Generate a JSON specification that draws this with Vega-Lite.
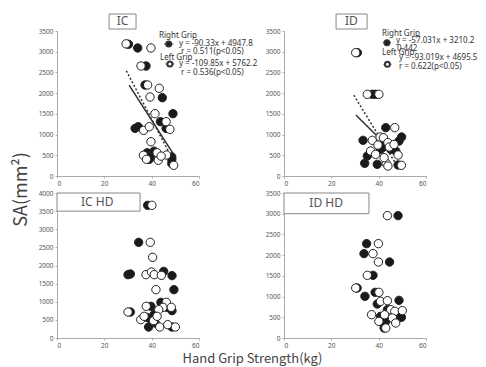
{
"$schema":"https://vega.github.io/schema/vega-lite/v6.json",
"padding":{"left":11,"top":13,"right":0,"bottom":5},
"background":"white",
"config":{"view":{"stroke":null},"font":"Noto Sans","axis":{"grid":false,"domainColor":"#aaa","tickColor":"#aaa","tickSize":2,"labelFontSize":6.5,"labelColor":"#555","labelPadding":2,"labelOverlap":false,"title":null,"format":"d"},"text":{"font":"Noto Sans","fontSize":8,"color":"#333","align":"left","baseline":"middle"}},
"datasets":{
"pts":[
{"panel":"IC","grip":"Right","hgs":30.2,"sa":3180},{"panel":"IC","grip":"Right","hgs":34.1,"sa":3090},{"panel":"IC","grip":"Right","hgs":37.6,"sa":2655},{"panel":"IC","grip":"Right","hgs":37.2,"sa":2197},{"panel":"IC","grip":"Right","hgs":44.5,"sa":1890},{"panel":"IC","grip":"Right","hgs":49.0,"sa":1504},{"panel":"IC","grip":"Right","hgs":43.7,"sa":1311},{"panel":"IC","grip":"Right","hgs":33.0,"sa":1150},{"panel":"IC","grip":"Right","hgs":34.3,"sa":1190},{"panel":"IC","grip":"Right","hgs":46.1,"sa":1150},{"panel":"IC","grip":"Right","hgs":38.1,"sa":560},{"panel":"IC","grip":"Right","hgs":40.0,"sa":483},{"panel":"IC","grip":"Right","hgs":39.0,"sa":403},{"panel":"IC","grip":"Right","hgs":41.5,"sa":530},{"panel":"IC","grip":"Right","hgs":48.5,"sa":459},{"panel":"IC","grip":"Right","hgs":48.5,"sa":400},{"panel":"IC","grip":"Right","hgs":48.5,"sa":300},{"panel":"IC","grip":"Right","hgs":41.0,"sa":600},
{"panel":"IC","grip":"Left","hgs":29.2,"sa":3190},{"panel":"IC","grip":"Left","hgs":39.7,"sa":3090},{"panel":"IC","grip":"Left","hgs":35.5,"sa":2655},{"panel":"IC","grip":"Left","hgs":38.3,"sa":2197},{"panel":"IC","grip":"Left","hgs":43.2,"sa":2117},{"panel":"IC","grip":"Left","hgs":39.3,"sa":1907},{"panel":"IC","grip":"Left","hgs":41.4,"sa":1504},{"panel":"IC","grip":"Left","hgs":46.1,"sa":1311},{"panel":"IC","grip":"Left","hgs":36.6,"sa":1102},{"panel":"IC","grip":"Left","hgs":39.0,"sa":1190},{"panel":"IC","grip":"Left","hgs":47.7,"sa":1126},{"panel":"IC","grip":"Left","hgs":39.7,"sa":828},{"panel":"IC","grip":"Left","hgs":36.5,"sa":500},{"panel":"IC","grip":"Left","hgs":42.3,"sa":560},{"panel":"IC","grip":"Left","hgs":37.8,"sa":403},{"panel":"IC","grip":"Left","hgs":42.8,"sa":379},{"panel":"IC","grip":"Left","hgs":46.3,"sa":507},{"panel":"IC","grip":"Left","hgs":49.3,"sa":258},{"panel":"IC","grip":"Left","hgs":44.0,"sa":480},
{"panel":"ID","grip":"Right","hgs":31.0,"sa":2977},{"panel":"ID","grip":"Right","hgs":37.3,"sa":1972},{"panel":"ID","grip":"Right","hgs":38.7,"sa":1972},{"panel":"ID","grip":"Right","hgs":43.0,"sa":1167},{"panel":"ID","grip":"Right","hgs":49.7,"sa":941},{"panel":"ID","grip":"Right","hgs":48.6,"sa":845},{"panel":"ID","grip":"Right","hgs":33.4,"sa":861},{"panel":"ID","grip":"Right","hgs":40.8,"sa":644},{"panel":"ID","grip":"Right","hgs":45.1,"sa":644},{"panel":"ID","grip":"Right","hgs":35.2,"sa":483},{"panel":"ID","grip":"Right","hgs":47.2,"sa":604},{"panel":"ID","grip":"Right","hgs":34.1,"sa":306},{"panel":"ID","grip":"Right","hgs":39.4,"sa":282},{"panel":"ID","grip":"Right","hgs":48.2,"sa":266},{"panel":"ID","grip":"Right","hgs":42.0,"sa":700},{"panel":"ID","grip":"Right","hgs":41.5,"sa":850},
{"panel":"ID","grip":"Left","hgs":30.3,"sa":2977},{"panel":"ID","grip":"Left","hgs":35.2,"sa":1972},{"panel":"ID","grip":"Left","hgs":40.1,"sa":1972},{"panel":"ID","grip":"Left","hgs":46.8,"sa":1167},{"panel":"ID","grip":"Left","hgs":37.3,"sa":861},{"panel":"ID","grip":"Left","hgs":40.6,"sa":941},{"panel":"ID","grip":"Left","hgs":42.0,"sa":925},{"panel":"ID","grip":"Left","hgs":43.9,"sa":805},{"panel":"ID","grip":"Left","hgs":39.7,"sa":748},{"panel":"ID","grip":"Left","hgs":36.6,"sa":604},{"panel":"ID","grip":"Left","hgs":38.7,"sa":523},{"panel":"ID","grip":"Left","hgs":48.2,"sa":507},{"panel":"ID","grip":"Left","hgs":43.2,"sa":306},{"panel":"ID","grip":"Left","hgs":42.3,"sa":443},{"panel":"ID","grip":"Left","hgs":43.9,"sa":241},{"panel":"ID","grip":"Left","hgs":49.6,"sa":258},{"panel":"ID","grip":"Left","hgs":44.5,"sa":700},{"panel":"ID","grip":"Left","hgs":46.5,"sa":760},
{"panel":"ICHD","grip":"Right","hgs":38.3,"sa":3660},{"panel":"ICHD","grip":"Right","hgs":34.5,"sa":2639},{"panel":"ICHD","grip":"Right","hgs":30.0,"sa":1747},{"panel":"ICHD","grip":"Right","hgs":31.0,"sa":1765},{"panel":"ICHD","grip":"Right","hgs":45.1,"sa":1839},{"panel":"ICHD","grip":"Right","hgs":48.6,"sa":1720},{"panel":"ICHD","grip":"Right","hgs":49.4,"sa":1333},{"panel":"ICHD","grip":"Right","hgs":31.0,"sa":717},{"panel":"ICHD","grip":"Right","hgs":39.7,"sa":874},{"panel":"ICHD","grip":"Right","hgs":43.9,"sa":984},{"panel":"ICHD","grip":"Right","hgs":46.5,"sa":846},{"panel":"ICHD","grip":"Right","hgs":48.6,"sa":754},{"panel":"ICHD","grip":"Right","hgs":41.0,"sa":644},{"panel":"ICHD","grip":"Right","hgs":38.0,"sa":570},{"panel":"ICHD","grip":"Right","hgs":39.4,"sa":533},{"panel":"ICHD","grip":"Right","hgs":38.7,"sa":303},{"panel":"ICHD","grip":"Right","hgs":48.6,"sa":303},{"panel":"ICHD","grip":"Right","hgs":41.5,"sa":414},
{"panel":"ICHD","grip":"Left","hgs":40.1,"sa":3660},{"panel":"ICHD","grip":"Left","hgs":39.4,"sa":2639},{"panel":"ICHD","grip":"Left","hgs":40.4,"sa":2225},{"panel":"ICHD","grip":"Left","hgs":37.6,"sa":1747},{"panel":"ICHD","grip":"Left","hgs":39.9,"sa":1820},{"panel":"ICHD","grip":"Left","hgs":41.1,"sa":1747},{"panel":"ICHD","grip":"Left","hgs":44.1,"sa":1729},{"panel":"ICHD","grip":"Left","hgs":41.8,"sa":1333},{"panel":"ICHD","grip":"Left","hgs":30.0,"sa":717},{"panel":"ICHD","grip":"Left","hgs":35.4,"sa":506},{"panel":"ICHD","grip":"Left","hgs":36.8,"sa":598},{"panel":"ICHD","grip":"Left","hgs":37.7,"sa":874},{"panel":"ICHD","grip":"Left","hgs":46.2,"sa":984},{"panel":"ICHD","grip":"Left","hgs":44.8,"sa":846},{"panel":"ICHD","grip":"Left","hgs":48.3,"sa":846},{"panel":"ICHD","grip":"Left","hgs":43.0,"sa":782},{"panel":"ICHD","grip":"Left","hgs":40.8,"sa":478},{"panel":"ICHD","grip":"Left","hgs":42.3,"sa":598},{"panel":"ICHD","grip":"Left","hgs":43.4,"sa":303},{"panel":"ICHD","grip":"Left","hgs":46.8,"sa":368},{"panel":"ICHD","grip":"Left","hgs":50.0,"sa":303},
{"panel":"IDHD","grip":"Right","hgs":48.2,"sa":2953},{"panel":"IDHD","grip":"Right","hgs":34.9,"sa":2277},{"panel":"IDHD","grip":"Right","hgs":33.8,"sa":2036},{"panel":"IDHD","grip":"Right","hgs":44.6,"sa":1834},{"panel":"IDHD","grip":"Right","hgs":37.6,"sa":1513},{"panel":"IDHD","grip":"Right","hgs":30.9,"sa":1207},{"panel":"IDHD","grip":"Right","hgs":34.2,"sa":1006},{"panel":"IDHD","grip":"Right","hgs":38.5,"sa":1102},{"panel":"IDHD","grip":"Right","hgs":39.4,"sa":821},{"panel":"IDHD","grip":"Right","hgs":48.6,"sa":909},{"panel":"IDHD","grip":"Right","hgs":40.8,"sa":523},{"panel":"IDHD","grip":"Right","hgs":43.7,"sa":684},{"panel":"IDHD","grip":"Right","hgs":47.9,"sa":563},{"panel":"IDHD","grip":"Right","hgs":49.6,"sa":499},{"panel":"IDHD","grip":"Right","hgs":43.0,"sa":402},{"panel":"IDHD","grip":"Right","hgs":42.3,"sa":241},{"panel":"IDHD","grip":"Right","hgs":41.5,"sa":380},
{"panel":"IDHD","grip":"Left","hgs":43.7,"sa":2953},{"panel":"IDHD","grip":"Left","hgs":39.9,"sa":2277},{"panel":"IDHD","grip":"Left","hgs":37.6,"sa":2036},{"panel":"IDHD","grip":"Left","hgs":39.9,"sa":1834},{"panel":"IDHD","grip":"Left","hgs":35.2,"sa":1513},{"panel":"IDHD","grip":"Left","hgs":30.3,"sa":1207},{"panel":"IDHD","grip":"Left","hgs":40.1,"sa":1102},{"panel":"IDHD","grip":"Left","hgs":40.8,"sa":885},{"panel":"IDHD","grip":"Left","hgs":43.7,"sa":901},{"panel":"IDHD","grip":"Left","hgs":37.0,"sa":563},{"panel":"IDHD","grip":"Left","hgs":45.1,"sa":684},{"panel":"IDHD","grip":"Left","hgs":46.8,"sa":644},{"panel":"IDHD","grip":"Left","hgs":50.0,"sa":660},{"panel":"IDHD","grip":"Left","hgs":45.8,"sa":483},{"panel":"IDHD","grip":"Left","hgs":47.2,"sa":362},{"panel":"IDHD","grip":"Left","hgs":43.0,"sa":241},{"panel":"IDHD","grip":"Left","hgs":40.1,"sa":402},{"panel":"IDHD","grip":"Left","hgs":42.5,"sa":560}
],
"fits":[
{"panel":"IC","grip":"Right","hgs":30.5,"sa":2190},{"panel":"IC","grip":"Right","hgs":49.3,"sa":520},
{"panel":"IC","grip":"Left","hgs":29.3,"sa":2540},{"panel":"IC","grip":"Left","hgs":48.5,"sa":440},
{"panel":"ID","grip":"Right","hgs":30.4,"sa":1470},{"panel":"ID","grip":"Right","hgs":49.0,"sa":420},
{"panel":"ID","grip":"Left","hgs":29.5,"sa":1950},{"panel":"ID","grip":"Left","hgs":47.0,"sa":320}
]
},
"columns":2,
"spacing":{"row":17,"column":85},
"bounds":"flush",
"concat":[
{"width":142,"height":145,"layer":[
{"data":{"name":"fits"},"transform":[{"filter":"datum.panel==='IC'"}],"mark":{"type":"line","color":"#333","strokeWidth":1.5},"encoding":{"x":{"field":"hgs","type":"quantitative","scale":{"domain":[0,60],"nice":false},"axis":{"values":[0,20,40,60],"labelOverlap":false}},"y":{"field":"sa","type":"quantitative","scale":{"domain":[0,3500],"nice":false},"axis":{"values":[0,500,1000,1500,2000,2500,3000,3500],"labelOverlap":false}},"strokeDash":{"field":"grip","type":"nominal","scale":{"domain":["Right","Left"],"range":[[1,0],[2,2]]},"legend":null}}},
{"data":{"name":"pts"},"transform":[{"filter":"datum.panel==='IC'"}],"mark":{"type":"point","shape":"circle","filled":true,"stroke":"#222","strokeWidth":1,"size":70,"opacity":1},"encoding":{"x":{"field":"hgs","type":"quantitative","axis":{"values":[0,20,40,60],"labelOverlap":false}},"y":{"field":"sa","type":"quantitative","axis":{"values":[0,500,1000,1500,2000,2500,3000,3500],"labelOverlap":false}},"fill":{"field":"grip","type":"nominal","scale":{"domain":["Right","Left"],"range":["#1a1a1a","#ffffff"]},"legend":null}}},
{"data":{"values":[{}]},"mark":{"type":"rect","fill":"white","stroke":"#888","strokeWidth":1},"encoding":{"x":{"datum":22,"axis":{"values":[0,20,40,60],"labelOverlap":false}},"x2":{"datum":33.4},"y":{"datum":3548,"axis":{"values":[0,500,1000,1500,2000,2500,3000,3500],"labelOverlap":false}},"y2":{"datum":3910}}},
{"data":{"values":[{"t":"IC"}]},"mark":{"type":"text","fontSize":12,"color":"#555","align":"center"},"encoding":{"x":{"datum":27.7,"axis":{"values":[0,20,40,60],"labelOverlap":false}},"y":{"datum":3730,"axis":{"values":[0,500,1000,1500,2000,2500,3000,3500],"labelOverlap":false}},"text":{"field":"t"}}},
{"data":{"values":[
{"t":"Right Grip","a":43.1,"b":3380},{"t":"y = -90.33x + 4947.8","a":51.5,"b":3186},{"t":"r = 0.511(p<0.05)","a":52.4,"b":2990},{"t":"Left Grip","a":43.5,"b":2850},{"t":"y = -109.85x + 5762.2","a":51.5,"b":2704},{"t":"r = 0.536(p<0.05)","a":52.4,"b":2486}]},"mark":{"type":"text"},"encoding":{"x":{"field":"a","type":"quantitative","axis":{"values":[0,20,40,60],"labelOverlap":false}},"y":{"field":"b","type":"quantitative","axis":{"values":[0,500,1000,1500,2000,2500,3000,3500],"labelOverlap":false}},"text":{"field":"t"}}},
{"data":{"values":[{"g":"Right","a1":45.2,"a2":49.2,"am":47.2,"b":3186},{"g":"Left","a1":45.8,"a2":49.6,"am":47.7,"b":2704}]},"layer":[
{"mark":{"type":"rule","color":"#444"},"encoding":{"x":{"field":"a1","type":"quantitative","axis":{"values":[0,20,40,60],"labelOverlap":false}},"x2":{"field":"a2"},"y":{"field":"b","type":"quantitative","axis":{"values":[0,500,1000,1500,2000,2500,3000,3500],"labelOverlap":false}}}},
{"mark":{"type":"point","shape":"circle","filled":true,"stroke":"#333","size":25,"opacity":1},"encoding":{"x":{"field":"am","type":"quantitative","axis":{"values":[0,20,40,60],"labelOverlap":false}},"y":{"field":"b","type":"quantitative","axis":{"values":[0,500,1000,1500,2000,2500,3000,3500],"labelOverlap":false}},"fill":{"field":"g","type":"nominal","scale":{"domain":["Right","Left"],"range":["#1a1a1a","#ffffff"]},"legend":null}}}
]}
]},
{"width":142,"height":145,"layer":[
{"data":{"name":"fits"},"transform":[{"filter":"datum.panel==='ID'"}],"mark":{"type":"line","color":"#333","strokeWidth":1.5},"encoding":{"x":{"field":"hgs","type":"quantitative","scale":{"domain":[0,60],"nice":false},"axis":{"values":[0,20,40,60],"labelOverlap":false}},"y":{"field":"sa","type":"quantitative","scale":{"domain":[0,3500],"nice":false},"axis":{"values":[0,500,1000,1500,2000,2500,3000,3500],"labelOverlap":false}},"strokeDash":{"field":"grip","type":"nominal","scale":{"domain":["Right","Left"],"range":[[1,0],[2,2]]},"legend":null}}},
{"data":{"name":"pts"},"transform":[{"filter":"datum.panel==='ID'"}],"mark":{"type":"point","shape":"circle","filled":true,"stroke":"#222","strokeWidth":1,"size":70,"opacity":1},"encoding":{"x":{"field":"hgs","type":"quantitative","axis":{"values":[0,20,40,60],"labelOverlap":false}},"y":{"field":"sa","type":"quantitative","axis":{"values":[0,500,1000,1500,2000,2500,3000,3500],"labelOverlap":false}},"fill":{"field":"grip","type":"nominal","scale":{"domain":["Right","Left"],"range":["#1a1a1a","#ffffff"]},"legend":null}}},
{"data":{"values":[{}]},"mark":{"type":"rect","fill":"white","stroke":"#888","strokeWidth":1},"encoding":{"x":{"datum":22,"axis":{"values":[0,20,40,60],"labelOverlap":false}},"x2":{"datum":35.1},"y":{"datum":3548,"axis":{"values":[0,500,1000,1500,2000,2500,3000,3500],"labelOverlap":false}},"y2":{"datum":3910}}},
{"data":{"values":[{"t":"ID"}]},"mark":{"type":"text","fontSize":12,"color":"#555","align":"center"},"encoding":{"x":{"datum":28.5,"axis":{"values":[0,20,40,60],"labelOverlap":false}},"y":{"datum":3730,"axis":{"values":[0,500,1000,1500,2000,2500,3000,3500],"labelOverlap":false}},"text":{"field":"t"}}},
{"data":{"values":[
{"t":"Right Grip","a":41.4,"b":3420},{"t":"y = -57.031x + 3210.2","a":47.3,"b":3259},{"t":"Left Grip","a":41.4,"b":2977},{"t":"0.442","a":47.7,"b":3058},{"t":"y = -93.019x + 4695.5","a":48.6,"b":2856},{"t":"r = 0.622(p<0.05)","a":48.6,"b":2640}]},"mark":{"type":"text"},"encoding":{"x":{"field":"a","type":"quantitative","axis":{"values":[0,20,40,60],"labelOverlap":false}},"y":{"field":"b","type":"quantitative","axis":{"values":[0,500,1000,1500,2000,2500,3000,3500],"labelOverlap":false}},"text":{"field":"t"}}},
{"data":{"values":[{"g":"Right","a1":41.8,"a2":45.2,"am":43.5,"b":3218},{"g":"Left","a1":42.0,"a2":45.4,"am":43.7,"b":2696}]},"layer":[
{"mark":{"type":"rule","color":"#444"},"encoding":{"x":{"field":"a1","type":"quantitative","axis":{"values":[0,20,40,60],"labelOverlap":false}},"x2":{"field":"a2"},"y":{"field":"b","type":"quantitative","axis":{"values":[0,500,1000,1500,2000,2500,3000,3500],"labelOverlap":false}}}},
{"mark":{"type":"point","shape":"circle","filled":true,"stroke":"#333","size":25,"opacity":1},"encoding":{"x":{"field":"am","type":"quantitative","axis":{"values":[0,20,40,60],"labelOverlap":false}},"y":{"field":"b","type":"quantitative","axis":{"values":[0,500,1000,1500,2000,2500,3000,3500],"labelOverlap":false}},"fill":{"field":"g","type":"nominal","scale":{"domain":["Right","Left"],"range":["#1a1a1a","#ffffff"]},"legend":null}}}
]}
]},
{"width":142,"height":145,"layer":[
{"data":{"name":"pts"},"transform":[{"filter":"datum.panel==='ICHD'"}],"mark":{"type":"point","shape":"circle","filled":true,"stroke":"#222","strokeWidth":1,"size":70,"opacity":1},"encoding":{"x":{"field":"hgs","type":"quantitative","scale":{"domain":[0,60],"nice":false},"axis":{"values":[0,20,40,60],"labelOverlap":false,"title":"Hand Grip Strength(kg)","titleX":195,"titleY":24,"titleAlign":"center","titleBaseline":"alphabetic","titleFont":"Noto Sans CJK JP","titleFontSize":13,"titleFontWeight":"normal","titleColor":"#444"}},"y":{"field":"sa","type":"quantitative","scale":{"domain":[0,4000],"nice":false},"axis":{"values":[0,500,1000,1500,2000,2500,3000,3500,4000],"labelOverlap":false,"title":"SA(mm²)","titleX":-36,"titleY":-4,"titleAngle":-90,"titleAlign":"center","titleBaseline":"middle","titleFont":"Noto Sans CJK JP","titleFontSize":18,"titleFontWeight":"normal","titleColor":"#444"}},"fill":{"field":"grip","type":"nominal","scale":{"domain":["Right","Left"],"range":["#1a1a1a","#ffffff"]},"legend":null}}},
{"data":{"values":[{"t":"IC HD"}]},"layer":[
{"mark":{"type":"rect","fill":"white","stroke":"#888","strokeWidth":1},"encoding":{"x":{"datum":0,"axis":{"values":[0,20,40,60],"labelOverlap":false,"title":"Hand Grip Strength(kg)","titleX":195,"titleY":24,"titleAlign":"center","titleBaseline":"alphabetic","titleFont":"Noto Sans CJK JP","titleFontSize":13,"titleFontWeight":"normal","titleColor":"#444"}},"x2":{"datum":35.1},"y":{"datum":3500,"axis":{"values":[0,500,1000,1500,2000,2500,3000,3500,4000],"labelOverlap":false,"title":"SA(mm²)","titleX":-36,"titleY":-4,"titleAngle":-90,"titleAlign":"center","titleBaseline":"middle","titleFont":"Noto Sans CJK JP","titleFontSize":18,"titleFontWeight":"normal","titleColor":"#444"}},"y2":{"datum":4000}}},
{"mark":{"type":"text","fontSize":12,"color":"#555","align":"center"},"encoding":{"x":{"datum":17,"axis":{"values":[0,20,40,60],"labelOverlap":false,"title":"Hand Grip Strength(kg)","titleX":195,"titleY":24,"titleAlign":"center","titleBaseline":"alphabetic","titleFont":"Noto Sans CJK JP","titleFontSize":13,"titleFontWeight":"normal","titleColor":"#444"}},"y":{"datum":3760,"axis":{"values":[0,500,1000,1500,2000,2500,3000,3500,4000],"labelOverlap":false,"title":"SA(mm²)","titleX":-36,"titleY":-4,"titleAngle":-90,"titleAlign":"center","titleBaseline":"middle","titleFont":"Noto Sans CJK JP","titleFontSize":18,"titleFontWeight":"normal","titleColor":"#444"}},"text":{"field":"t"}}}
]}
]},
{"width":142,"height":145,"layer":[
{"data":{"name":"pts"},"transform":[{"filter":"datum.panel==='IDHD'"}],"mark":{"type":"point","shape":"circle","filled":true,"stroke":"#222","strokeWidth":1,"size":70,"opacity":1},"encoding":{"x":{"field":"hgs","type":"quantitative","scale":{"domain":[0,60],"nice":false},"axis":{"values":[0,20,40,60],"labelOverlap":false}},"y":{"field":"sa","type":"quantitative","scale":{"domain":[0,3500],"nice":false},"axis":{"values":[0,500,1000,1500,2000,2500,3000,3500],"labelOverlap":false}},"fill":{"field":"grip","type":"nominal","scale":{"domain":["Right","Left"],"range":["#1a1a1a","#ffffff"]},"legend":null}}},
{"data":{"values":[{"t":"ID HD"}]},"layer":[
{"mark":{"type":"rect","fill":"white","stroke":"#888","strokeWidth":1},"encoding":{"x":{"datum":0,"axis":{"values":[0,20,40,60],"labelOverlap":false}},"x2":{"datum":35.9},"y":{"datum":3000,"axis":{"values":[0,500,1000,1500,2000,2500,3000,3500],"labelOverlap":false}},"y2":{"datum":3500}}},
{"mark":{"type":"text","fontSize":12,"color":"#555","align":"center"},"encoding":{"x":{"datum":17.8,"axis":{"values":[0,20,40,60],"labelOverlap":false}},"y":{"datum":3260,"axis":{"values":[0,500,1000,1500,2000,2500,3000,3500],"labelOverlap":false}},"text":{"field":"t"}}}
]}
]}
]
}
